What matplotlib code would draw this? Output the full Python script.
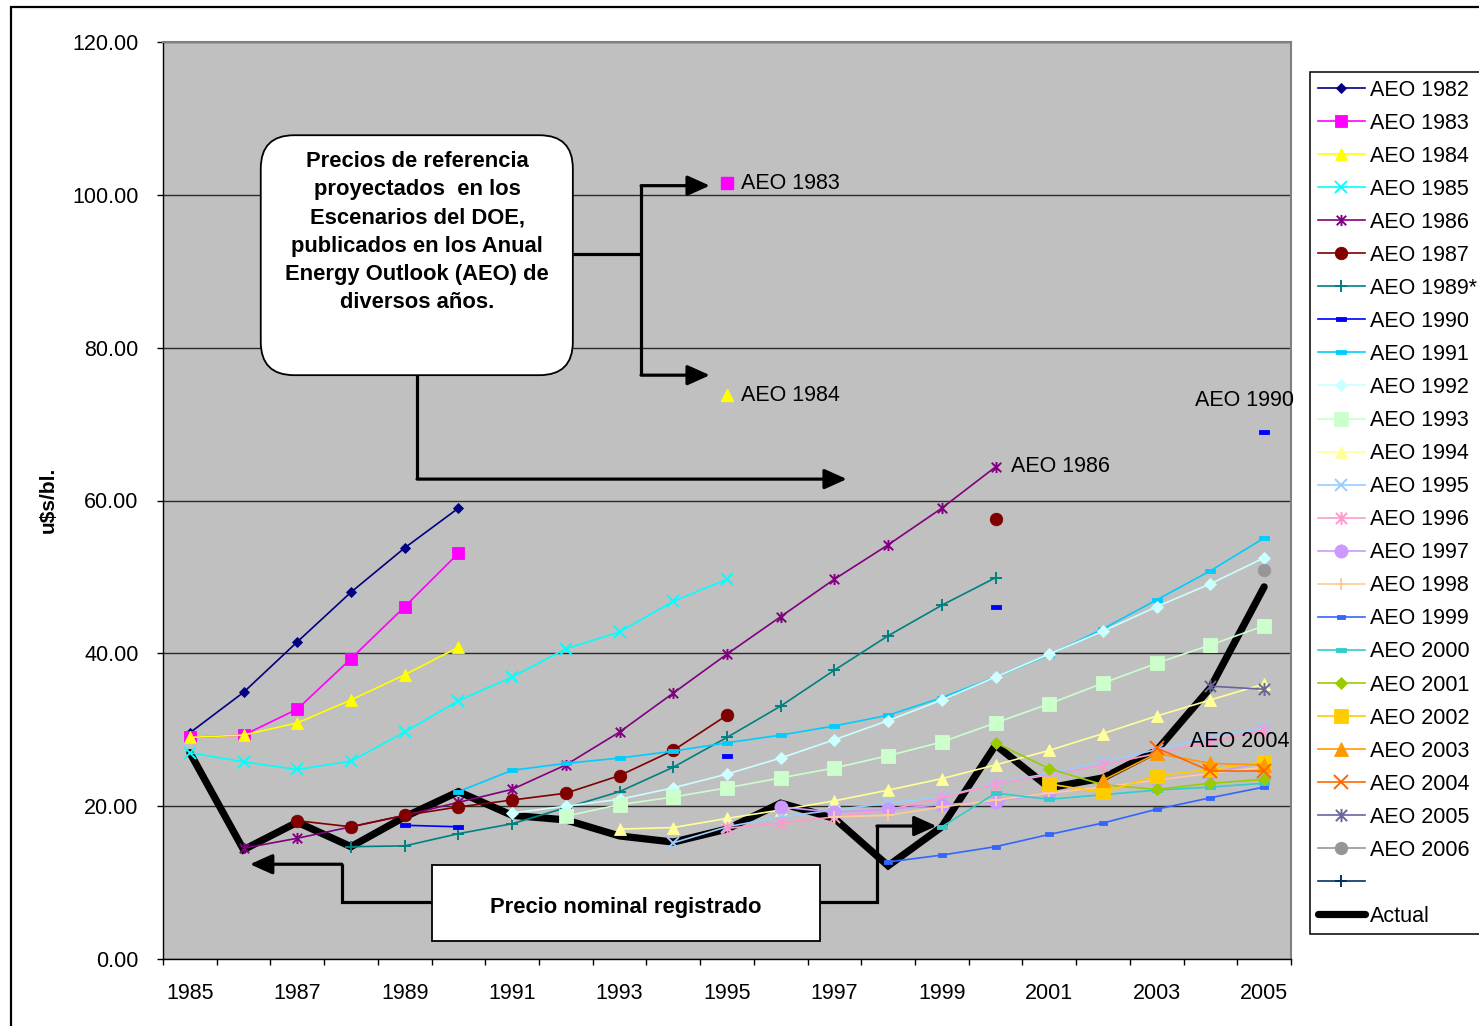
import matplotlib
matplotlib.use('Agg')
import matplotlib.pyplot as plt
import numpy as np
from matplotlib.path import Path
from matplotlib.patches import FancyBboxPatch, Rectangle
from matplotlib.lines import Line2D

plt.rcParams['font.family'] = ['Liberation Sans', 'DejaVu Sans']

N = None
years = list(range(1985, 2006))
year_labels = [str(y) for y in years[::2]]

aeo1982 = [29.6, 34.9, 41.5, 48.0, 53.8, 59.0, N, N, N, N, N, N, N, N, N, N, N, N, N, N, N]
aeo1983 = [29.0, 29.3, 32.7, 39.3, 46.1, 53.1, N, N, N, N, N, N, N, N, N, N, N, N, N, N, N]
aeo1984 = [29.0, 29.3, 30.9, 33.9, 37.2, 40.8, N, N, N, N, N, N, N, N, N, N, N, N, N, N, N]
aeo1985 = [27.0, 25.8, 24.8, 25.9, 29.7, 33.8, 36.9, 40.6, 42.8, 46.8, 49.7, N, N, N, N, N, N, N, N, N, N]
aeo1986 = [N, 14.5, 15.8, 17.3, 18.8, 20.5, 22.2, 25.4, 29.7, 34.8, 39.9, 44.8, 49.7, 54.2, 59.0, 64.4, N, N, N, N, N]
aeo1987 = [N, N, 18.1, 17.3, 18.8, 19.9, 20.8, 21.7, 24.0, 27.3, 31.9, N, N, N, N, 57.6, N, N, N, N, N]
aeo1989 = [N, N, N, 14.7, 14.8, 16.4, 17.7, 19.8, 21.9, 25.1, 29.0, 33.1, 37.8, 42.3, 46.3, 49.9, N, N, N, N, N]
aeo1990 = [N, N, N, N, 17.5, 17.3, N, N, N, N, 26.6, N, N, N, N, 46.1, N, N, N, N, 69.0]
aeo1991 = [N, N, N, N, N, 21.9, 24.7, 25.6, 26.3, 27.2, 28.3, 29.3, 30.5, 31.9, 34.2, 36.9, 39.8, 43.2, 47.0, 50.8, 55.1]
aeo1992 = [N, N, N, N, N, N, 19.1, 20.0, 20.9, 22.4, 24.2, 26.3, 28.7, 31.2, 33.9, 36.9, 39.9, 42.9, 46.1, 49.1, 52.5]
aeo1993 = [N, N, N, N, N, N, N, 18.7, 20.2, 21.2, 22.4, 23.7, 25.0, 26.6, 28.4, 30.9, 33.4, 36.1, 38.7, 41.1, 43.6]
aeo1994 = [N, N, N, N, N, N, N, N, 17.0, 17.2, 18.4, 19.5, 20.7, 22.1, 23.6, 25.4, 27.3, 29.5, 31.8, 33.9, 36.0]
aeo1995 = [N, N, N, N, N, N, N, N, N, 15.2, 17.3, 18.6, 19.5, 20.4, 21.2, 23.0, 24.3, 25.8, 27.4, 29.1, 30.2]
aeo1996 = [N, N, N, N, N, N, N, N, N, N, 17.1, 17.8, 18.6, 19.5, 21.1, 22.9, 24.1, 25.4, 26.9, 28.4, 30.0]
aeo1997 = [N, N, N, N, N, N, N, N, N, N, N, 19.9, 19.2, 19.6, 20.2, 20.6, 21.7, 22.5, 23.4, 24.3, 25.8]
aeo1998 = [N, N, N, N, N, N, N, N, N, N, N, N, 18.6, 18.8, 19.9, 20.8, 21.7, 22.5, 23.4, 24.3, 25.1]
aeo1999 = [N, N, N, N, N, N, N, N, N, N, N, N, N, 12.7, 13.6, 14.7, 16.3, 17.8, 19.6, 21.1, 22.5]
aeo2000 = [N, N, N, N, N, N, N, N, N, N, N, N, N, N, 17.3, 21.7, 20.9, 21.5, 22.1, 22.5, 23.0]
aeo2001 = [N, N, N, N, N, N, N, N, N, N, N, N, N, N, N, 28.3, 24.9, 22.8, 22.2, 23.0, 23.5]
aeo2002 = [N, N, N, N, N, N, N, N, N, N, N, N, N, N, N, N, 22.9, 21.8, 24.0, 24.8, 25.8]
aeo2003 = [N, N, N, N, N, N, N, N, N, N, N, N, N, N, N, N, N, 23.4, 26.9, 25.6, 25.4]
aeo2004 = [N, N, N, N, N, N, N, N, N, N, N, N, N, N, N, N, N, N, 27.6, 24.6, 24.6]
aeo2005 = [N, N, N, N, N, N, N, N, N, N, N, N, N, N, N, N, N, N, N, 35.7, 35.3]
aeo2006 = [N, N, N, N, N, N, N, N, N, N, N, N, N, N, N, N, N, N, N, N, 50.9]
unnamed = [N] * 21
actual = [27.0, 14.3, 17.9, 14.7, 18.6, 21.9, 18.8, 18.2, 16.1, 15.3, 17.0, 20.4, 18.4, 12.2,
          17.3, 28.0, 22.4, 23.7, 27.3, 35.5, 48.7]

series_names = ['AEO 1982', 'AEO 1983', 'AEO 1984', 'AEO 1985', 'AEO 1986', 'AEO 1987',
                'AEO 1989*', 'AEO 1990', 'AEO 1991', 'AEO 1992', 'AEO 1993', 'AEO 1994',
                'AEO 1995', 'AEO 1996', 'AEO 1997', 'AEO 1998', 'AEO 1999', 'AEO 2000',
                'AEO 2001', 'AEO 2002', 'AEO 2003', 'AEO 2004', 'AEO 2005', 'AEO 2006', ' ']
series_values = [aeo1982, aeo1983, aeo1984, aeo1985, aeo1986, aeo1987, aeo1989, aeo1990,
                 aeo1991, aeo1992, aeo1993, aeo1994, aeo1995, aeo1996, aeo1997, aeo1998,
                 aeo1999, aeo2000, aeo2001, aeo2002, aeo2003, aeo2004, aeo2005, aeo2006, unnamed]

# text callouts (label, x category, y value)
callouts = [('AEO 1986', 15.28, 64.5), ('AEO 1990', 18.72, 73.1), ('AEO 2004', 18.62, 28.5)]
marker_callouts = [('AEO 1983', 10.0, 101.5, 1), ('AEO 1984', 10.0, 73.8, 2)]

# ---- styles ----
RECT = [(-1, -0.45), (1, -0.45), (1, 0.45), (-1, 0.45), (-1, -0.45)]
STAR = Path([(0, -1), (0, 1), (-0.85, -0.85), (0.85, 0.85), (-0.85, 0.85), (0.85, -0.85)],
            [Path.MOVETO, Path.LINETO] * 3)
styles = [
    ('#000080', 'D', 5.2), ('#FF00FF', 's', 8.5), ('#FFFF00', '^', 8.5), ('#00FFFF', 'x', 8.5),
    ('#800080', STAR, 8), ('#800000', 'o', 9), ('#008080', '+', 8), ('#0000FF', RECT, 6.5),
    ('#00CCFF', RECT, 7.5), ('#CCFFFF', 'D', 6.0), ('#CCFFCC', 's', 10), ('#FFFF99', '^', 9),
    ('#99CCFF', 'x', 9), ('#FF99CC', STAR, 9.5), ('#CC99FF', 'o', 9.5), ('#FFCC99', '+', 8),
    ('#3366FF', RECT, 6), ('#33CCCC', RECT, 7.5), ('#99CC00', 'D', 6), ('#FFCC00', 's', 10.5),
    ('#FF9900', '^', 10), ('#FF6600', 'x', 9.5), ('#666699', STAR, 9.5), ('#969696', 'o', 9),
    ('#003366', '+', 8),
]

W, H = 1479, 1026
fig = plt.figure(figsize=(W / 100, H / 100), dpi=100)
fig.patches.append(Rectangle((11 / W, -0.1), 1.2, 1.1 - 7 / H, transform=fig.transFigure,
                             fill=False, edgecolor='black', lw=1.6))
ax = fig.add_axes([163 / W, 1 - 959 / H, (1291 - 163) / W, (959 - 42) / H])
ax.set_facecolor('#C0C0C0')

x = np.arange(len(years))
handles = []
for name, vals, (col, mk, ms) in zip(series_names, series_values, styles):
    v = np.array([np.nan if a is None else a for a in vals], dtype=float)
    unfilled = mk in ('x', '+')
    ln, = ax.plot(x, v, color=col, lw=1.2, marker=mk, ms=ms, mfc=col, mec=col,
                  mew=(1.4 if unfilled or isinstance(mk, Path) else 0.6), zorder=3)
    handles.append(ln)

av = np.array(actual, dtype=float)
act, = ax.plot(x, av, color='black', lw=5.2, zorder=2.5, solid_joinstyle='miter',
               solid_capstyle='round')
handles.append(act)
labels = series_names + ['Actual']

ax.set_xlim(-0.5, len(years) - 0.5)
ax.set_ylim(0, 120)
ax.set_yticks(np.arange(0, 121, 20))
ax.set_yticklabels(['%.2f' % t for t in np.arange(0, 121, 20)])
ax.set_xticks(np.arange(-0.5, len(years), 1.0))
ax.set_xticklabels([])
ax.set_xticks(x[::2], minor=True)
ax.set_xticklabels(year_labels, minor=True)
ax.tick_params(axis='x', which='major', length=4.5, width=1, direction='out')
ax.tick_params(axis='x', which='minor', length=0, pad=17.5, labelsize=15.5)
ax.tick_params(axis='y', which='major', length=4.5, width=1, direction='out', pad=13,
               labelsize=15.5)
ax.grid(axis='y', color='#2a2a2a', lw=1.0, zorder=1)
ax.set_axisbelow(True)
for s in ('left', 'bottom'):
    ax.spines[s].set_color('black')
    ax.spines[s].set_linewidth(1.0)
for s in ('top', 'right'):
    ax.spines[s].set_color('#808080')
    ax.spines[s].set_linewidth(1.5)

fig.text(48 / W, 1 - 500 / H, 'u$s/bl.', rotation=90, fontweight='bold', fontsize=15,
         ha='center', va='center')

# callouts
for txt, cx, cy in callouts:
    ax.text(cx, cy, txt, fontsize=15.5, ha='left', va='center', zorder=6)
for txt, cx, cy, si in marker_callouts:
    col, mk, ms = styles[si]
    ax.plot([cx], [cy], ls='none', marker=mk, color=col, ms=ms, zorder=6)
    ax.text(cx + 0.26, cy, txt, fontsize=15.5, ha='left', va='center', zorder=6)

# annotation boxes
box = FancyBboxPatch((1.32, 76.4), 7.13 - 1.32, 107.8 - 76.4,
                     boxstyle='round,pad=0,rounding_size=0.62', mutation_aspect=7.03,
                     facecolor='white', edgecolor='black', lw=1.3, zorder=7)
ax.add_patch(box)
ax.text(4.23, 95.1, 'Precios de referencia\nproyectados  en los\nEscenarios del DOE,\n'
        'publicados en los Anual\nEnergy Outlook (AEO) de\ndiversos años.',
        fontsize=15.8, fontweight='bold', ha='center', va='center', linespacing=1.45, zorder=8)

box2 = Rectangle((4.51, 2.36), 11.73 - 4.51, 12.3 - 2.36, facecolor='white',
                 edgecolor='black', lw=1.3, zorder=7)
ax.add_patch(box2)
ax.text(8.12, 6.7, 'Precio nominal registrado', fontsize=15.8, fontweight='bold',
        ha='center', va='center', zorder=8)

LW = 2.3
def poly(xs, ys):
    ax.plot(xs, ys, color='black', lw=LW, zorder=6, solid_joinstyle='miter',
            solid_capstyle='butt')

def arrow(x0, y0, x1, y1):
    ax.annotate('', xy=(x1, y1), xytext=(x0, y0),
                arrowprops=dict(arrowstyle='-|>,head_length=0.8,head_width=0.36',
                                mutation_scale=17, lw=LW, color='black',
                                shrinkA=0, shrinkB=0), zorder=6)

poly([7.13, 8.40], [92.25, 92.25])
poly([8.40, 8.40], [101.2, 76.4])
arrow(8.40, 101.2, 9.68, 101.2)
arrow(8.40, 76.4, 9.68, 76.4)
poly([4.23, 4.23], [76.4, 62.8])
arrow(4.23, 62.8, 12.23, 62.8)

poly([4.51, 2.83, 2.83], [7.46, 7.46, 12.4])
arrow(2.83, 12.4, 1.12, 12.4)
poly([11.73, 12.79, 12.79], [7.46, 7.46, 17.4])
arrow(12.79, 17.4, 13.9, 17.4)

leg = fig.legend(handles, labels, loc='upper left', bbox_to_anchor=(1310 / W, 1 - 72 / H),
                 bbox_transform=fig.transFigure, borderaxespad=0, fontsize=15.5,
                 frameon=True, fancybox=False, framealpha=1, edgecolor='black',
                 borderpad=0.35, labelspacing=0.56, handlelength=2.2, handletextpad=0.25,
                 numpoints=1)
leg.get_frame().set_linewidth(1.1)

fig.savefig('out.png', dpi=100)
